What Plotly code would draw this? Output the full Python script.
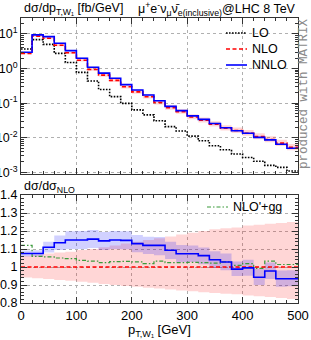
import plotly.graph_objects as go

# ---------------- data ----------------
bin_edges = [0, 20, 40, 60, 80, 100, 120, 140, 160, 180, 200, 220, 240, 260,
             280, 300, 320, 340, 360, 380, 400, 420, 440, 460, 480, 500]

lo_xs = [3.68, 6.85, 5.0, 2.75, 1.5, 0.78, 0.44, 0.25, 0.155, 0.099, 0.064, 0.046, 0.031,
         0.021, 0.0158, 0.0112, 0.0082, 0.0059, 0.0045, 0.0034, 0.0027, 0.0021, 0.0016,
         0.0014, 0.0011]
nlo_xs = [2.75, 8.7, 7.55, 4.75, 2.87, 1.74, 0.945, 0.646, 0.457, 0.299, 0.212, 0.154,
          0.105, 0.074, 0.0568, 0.040, 0.032, 0.0249, 0.019, 0.0162, 0.0136, 0.0109,
          0.0089, 0.0070, 0.0053]
nnlo_xs = [2.96, 9.4, 8.4, 5.4, 3.3, 2.0, 1.09, 0.74, 0.525, 0.343, 0.24, 0.173, 0.118,
           0.081, 0.061, 0.043, 0.034, 0.026, 0.0196, 0.016, 0.0135, 0.0103, 0.0087,
           0.0065, 0.005]

# ratios to NLO
r_nlo_up = [1.062, 1.068, 1.075, 1.08, 1.085, 1.095, 1.10, 1.11, 1.12, 1.13, 1.14, 1.15,
            1.16, 1.17, 1.18, 1.19, 1.20, 1.21, 1.215, 1.22, 1.23, 1.235, 1.24, 1.245, 1.25]
r_nlo_dn = [0.942, 0.938, 0.933, 0.928, 0.924, 0.918, 0.912, 0.906, 0.90, 0.895, 0.89,
            0.885, 0.88, 0.875, 0.87, 0.865, 0.86, 0.856, 0.852, 0.848, 0.842, 0.838,
            0.833, 0.828, 0.822]
r_nnlo = [1.075, 1.075, 1.11, 1.135, 1.15, 1.15, 1.155, 1.145, 1.15, 1.148, 1.13, 1.12,
          1.12, 1.093, 1.074, 1.074, 1.063, 1.04, 1.028, 0.988, 0.995, 0.943, 0.978,
          0.935, 0.935]
r_nnlo_up = [1.092, 1.093, 1.14, 1.175, 1.198, 1.2, 1.205, 1.195, 1.2, 1.198, 1.178, 1.168,
             1.167, 1.14, 1.122, 1.12, 1.108, 1.088, 1.075, 1.03, 1.04, 0.99, 1.025, 0.98,
             0.982]
r_nnlo_dn = [1.058, 1.058, 1.08, 1.095, 1.1, 1.1, 1.105, 1.095, 1.1, 1.098, 1.082, 1.072,
             1.065, 1.045, 1.027, 1.028, 1.015, 0.995, 0.982, 0.95, 0.952, 0.9, 0.933,
             0.89, 0.893]
r_nlogg = [1.12, 1.059, 1.056, 1.05, 1.046, 1.037, 1.033, 1.024, 1.03, 1.031, 1.028, 1.019,
           1.033, 1.024, 1.024, 1.026, 1.024, 1.022, 1.028, 1.009, 1.019, 0.992, 1.033,
           1.014, 1.014]
r_nlo = [1.0] * len(nlo_xs)

legend_top = ["LO", "NLO", "NNLO"]
legend_bottom = ["NLO'+gg"]

# ---------------- helpers ----------------
def st(v):
    return list(v) + [v[-1]]

RED = "#ff0000"
BLUE = "#0000ff"
GREEN = "#3a9a3a"
PINK = "rgba(255,0,0,0.16)"
LBLUE = "rgba(0,0,255,0.18)"
FONT = "Liberation Sans"

W, H = 311, 340
ML, MR, MT, MB = 21, 13, 18, 37
PW, PH = W - ML - MR, H - MT - MB

def px_x(p):
    return (p - ML) / PW

def px_y(p):
    return (H - MB - p) / PH

fig = go.Figure()

def band(up, dn, color, xa, ya):
    fig.add_trace(go.Scatter(x=bin_edges, y=st(up), mode="lines", line=dict(width=0, shape="hv"),
                             showlegend=False, hoverinfo="skip", xaxis=xa, yaxis=ya))
    fig.add_trace(go.Scatter(x=bin_edges, y=st(dn), mode="lines", line=dict(width=0, shape="hv"),
                             fill="tonexty", fillcolor=color, showlegend=False, hoverinfo="skip",
                             xaxis=xa, yaxis=ya))

styles = {
    "LO": dict(color="black", width=1.6, dash="1.6px,1.4px"),
    "NLO": dict(color=RED, width=1.6, dash="4px,2.5px"),
    "NNLO": dict(color=BLUE, width=1.6, dash="solid"),
    "NLO'+gg": dict(color=GREEN, width=1.2, dash="4px,2px,1.5px,2px"),
}

# top panel bands
band([n * u for n, u in zip(nlo_xs, r_nlo_up)], [n * d for n, d in zip(nlo_xs, r_nlo_dn)], PINK, "x", "y")
band([n * u / r for n, u, r in zip(nnlo_xs, r_nnlo_up, r_nnlo)],
     [n * d / r for n, d, r in zip(nnlo_xs, r_nnlo_dn, r_nnlo)], LBLUE, "x", "y")

for name, vals in zip(legend_top, [lo_xs, nlo_xs, nnlo_xs]):
    fig.add_trace(go.Scatter(x=bin_edges, y=st(vals), mode="lines", name=name, showlegend=False,
                             line=dict(styles[name], shape="hv"), xaxis="x", yaxis="y"))

# ratio panel
band(r_nlo_up, r_nlo_dn, PINK, "x2", "y2")
band(r_nnlo_up, r_nnlo_dn, LBLUE, "x2", "y2")
fig.add_trace(go.Scatter(x=bin_edges, y=st(r_nlogg), mode="lines", name="NLO'+gg", showlegend=False,
                         line=dict(styles["NLO'+gg"], shape="hv"), xaxis="x2", yaxis="y2"))
fig.add_trace(go.Scatter(x=bin_edges, y=st(r_nlo), mode="lines", name="NLO", showlegend=False,
                         line=dict(styles["NLO"], shape="hv"), xaxis="x2", yaxis="y2"))
fig.add_trace(go.Scatter(x=bin_edges, y=st(r_nnlo), mode="lines", name="NNLO", showlegend=False,
                         line=dict(styles["NNLO"], shape="hv"), xaxis="x2", yaxis="y2"))

# ---------------- axes ----------------
common_x = dict(range=[0, 500], tickmode="linear", tick0=0, dtick=100, ticks="inside", ticklen=6,
                tickcolor="#333", showline=True, linecolor="#333", linewidth=1, mirror="allticks",
                showgrid=True, gridcolor="#b0b0b0", griddash="dot", gridwidth=1, zeroline=False,
                automargin=False,
                minor=dict(dtick=20, tick0=0, ticks="inside", ticklen=3, tickcolor="#333", showgrid=False),
                tickfont=dict(family=FONT, size=13, color="black"))

decades = [-3, -2, -1, 0, 1]
minor_log = [k * 10.0 ** d for d in [-4, -3, -2, -1, 0, 1] for k in range(2, 10)]

fig.update_layout(
    width=W, height=H,
    margin=dict(l=ML, r=MR, t=MT, b=MB, autoexpand=False),
    paper_bgcolor="white", plot_bgcolor="white",
    font=dict(family=FONT, size=12, color="black"),
    showlegend=False,
    xaxis=dict(common_x, domain=[0, 1], anchor="y", showticklabels=False),
    yaxis=dict(type="log", domain=[px_y(174), 1], range=[-3.046, 1.462], anchor="x",
               tickmode="array", tickvals=[10.0 ** d for d in decades],
               ticktext=["10<sup>%d</sup>" % d for d in decades],
               ticks="inside", ticklen=6, tickcolor="#333", showline=True, linecolor="#333",
               mirror="allticks", showgrid=True, gridcolor="#b0b0b0", griddash="dot",
               zeroline=False, automargin=False,
               minor=dict(tickmode="array", tickvals=minor_log, ticks="inside", ticklen=3,
                          tickcolor="#333", showgrid=False),
               tickfont=dict(family=FONT, size=12.5, color="black")),
    xaxis2=dict(common_x, domain=[0, 1], anchor="y2"),
    yaxis2=dict(domain=[0, px_y(195)], range=[0.8, 1.4], anchor="x2", tickmode="linear", tick0=0.8,
                dtick=0.1, ticks="inside", ticklen=6, tickcolor="#333", showline=True,
                linecolor="#333", mirror="allticks", showgrid=True, gridcolor="#b0b0b0",
                griddash="dot", zeroline=False, automargin=False,
                minor=dict(dtick=0.02, tick0=0.8, ticks="inside", ticklen=3, tickcolor="#333",
                           showgrid=False),
                tickfont=dict(family=FONT, size=12.5, color="black")),
)

# manual legends (line sample + label)
legend_rows = [(n, 226, 247, 33 + 16 * i) for i, n in enumerate(legend_top)] + \
              [(legend_bottom[0], 207, 228, 207)]
for name, x0, x1, yy in legend_rows:
    s = styles[name]
    fig.add_shape(type="line", xref="paper", yref="paper", x0=px_x(x0), x1=px_x(x1),
                  y0=px_y(yy), y1=px_y(yy),
                  line=dict(color=s["color"], width=s["width"], dash=s["dash"]))
    fig.add_annotation(text=name, xref="paper", yref="paper", x=px_x(x1 + 3), y=px_y(yy),
                       xanchor="left", yanchor="middle", showarrow=False,
                       font=dict(family=FONT, size=12.5, color="black"))

ann = [
    dict(text="dσ/dp<sub>T,W₁</sub> [fb/GeV]", x=px_x(22), y=px_y(9), xanchor="left", yanchor="middle",
         font=dict(size=12.5)),
    dict(text="μ<sup>+</sup>e<sup>-</sup>ν<sub>μ</sub>ν̄<sub>e</sub><sub>(inclusive)</sub>@LHC 8 TeV",
         x=1.0, y=px_y(9), xanchor="right", yanchor="middle", font=dict(size=12.5)),
    dict(text="dσ/dσ<sub>NLO</sub>", x=px_x(22), y=px_y(187), xanchor="left", yanchor="middle",
         font=dict(size=12.5)),
    dict(text="p<sub>T,W₁</sub> [GeV]", x=0.5, y=px_y(330), xanchor="center", yanchor="middle",
         font=dict(size=13)),
    dict(text="produced with MATRIX", x=px_x(304), y=px_y(94), xanchor="center", yanchor="middle",
         textangle=-90, font=dict(family="Liberation Mono", size=12.5, color="#8a8a8a")),
]
for a in ann:
    a.update(xref="paper", yref="paper", showarrow=False)
    fig.add_annotation(**a)

fig.write_html("out.html", config={"displayModeBar": False},
               post_script="document.body.style.margin='0px';")
